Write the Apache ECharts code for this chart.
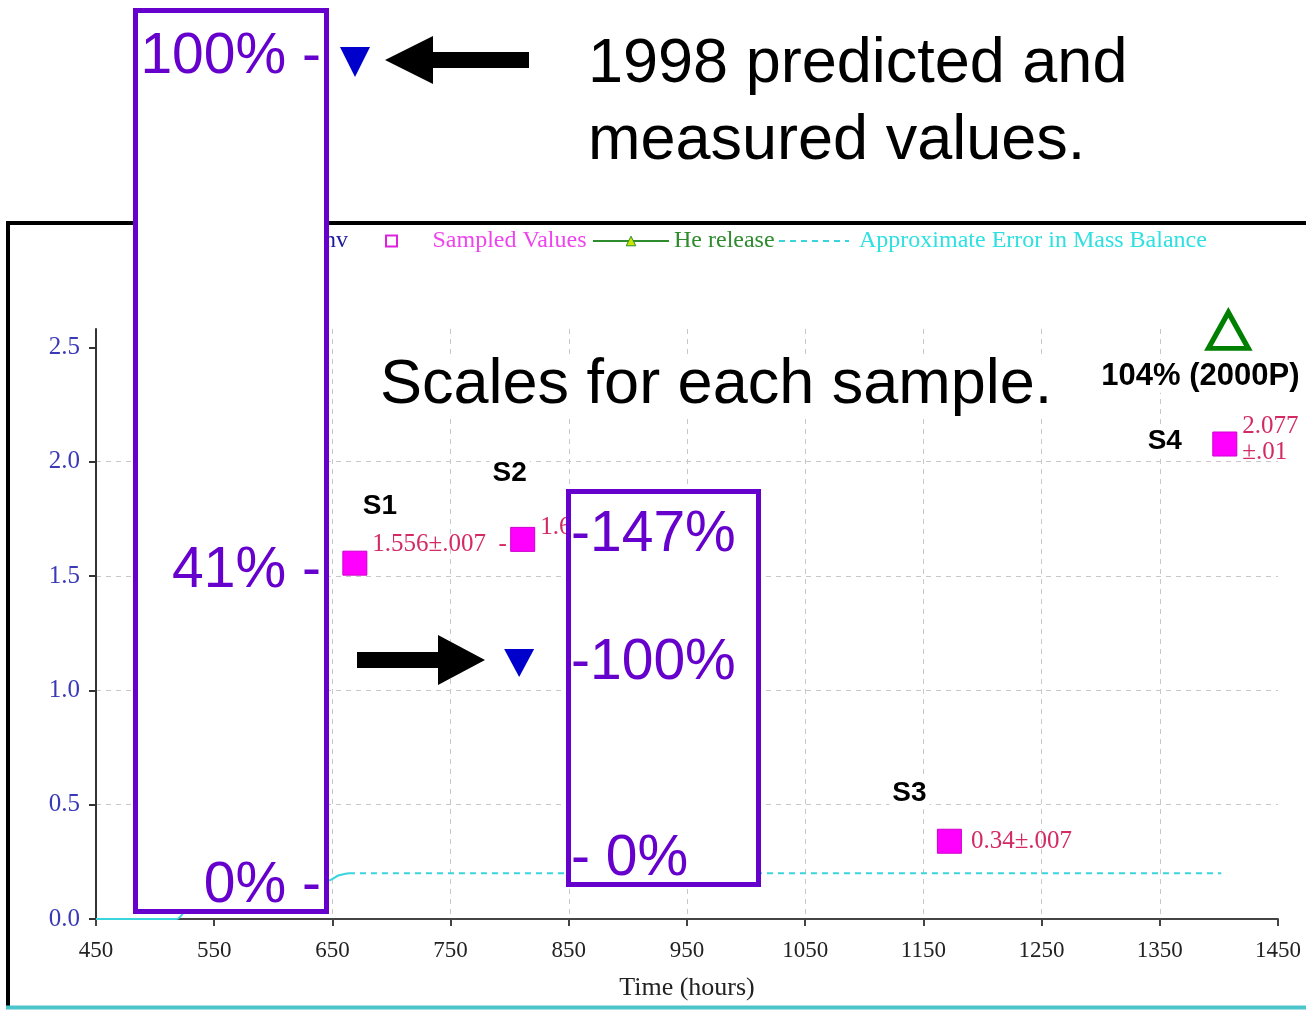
<!DOCTYPE html>
<html>
<head>
<meta charset="utf-8">
<script src="https://cdn.jsdelivr.net/npm/echarts@6/dist/echarts.min.js"></script>
<style>
  html, body { margin: 0; padding: 0; background: #fff; }
  #chart { width: 1306px; height: 1010px; }
</style>
</head>
<body>
<div id="chart"></div>
<script>
// Axis ticks
const xTicks = [450, 550, 650, 750, 850, 950, 1050, 1150, 1250, 1350, 1450];
const yTicks = [0, 0.5, 1.0, 1.5, 2.0, 2.5];

// Sampled values (hours, measured amount, uncertainty)
const sampleNames = ['S1', 'S2', 'S3', 'S4'];
const sampleHours = [669, 811, 1172, 1405];
const sampleValues = [1.556, 1.66, 0.34, 2.077];
const sampleErrors = ['.007', '.007', '.007', '.01'];

// Predicted value (inverted triangle)
const predictedHours = [808];
const predictedValues = [1.12];

// He release marker
const heHours = [1408];
const heValues = [2.574];
const heNotes = ['104% (2000P)'];

// Approximate error in mass balance: initial ramp, then flat dashed run
const errorRampHours = [450, 518, 530, 648, 655, 664];
const errorRampValues = [0, 0, 0.06, 0.17, 0.19, 0.2];
const errorFlatHours = [664, 1402];
const errorFlatValues = [0.2, 0.2];

// label placement for each sample (px offsets from the marker)
const valueLabelShift = [[0, -19], [0, -12], [4, 0], [0, -5]];
const valueLabelTail = ['  -', '', '', ''];
const valueLabelWrap = [false, false, false, true];
const nameLabelShift = [[25, -57], [-13, -66], [-40, -48], [-60, -3]];

const zip = (xs, ys) => xs.map((x, i) => [x, ys[i]]);

const SERIF = 'Liberation Serif';
const SANS = 'Liberation Sans';
const PURPLE = '#6600cc';
const CYAN = '#3ad4dc';

const sampleData = sampleHours.map((h, i) => ({
  value: [h, sampleValues[i]],
  label: {
    offset: valueLabelShift[i],
    formatter: () => valueLabelWrap[i]
      ? sampleValues[i] + '\n±' + sampleErrors[i]
      : sampleValues[i] + '±' + sampleErrors[i] + valueLabelTail[i]
  }
}));

const sampleTagData = sampleHours.map((h, i) => ({
  value: [h, sampleValues[i]],
  label: { offset: nameLabelShift[i], formatter: sampleNames[i] }
}));

const legendBase = {
  top: 229,
  padding: 0,
  itemGap: 0,
  itemHeight: 14,
  selectedMode: false,
  textStyle: { fontFamily: SERIF, fontSize: 24, lineHeight: 24 }
};

function purpleText(text, x, y, align) {
  return {
    type: 'text', z: 60,
    style: {
      text: text, x: x, y: y,
      font: '57px "' + SANS + '"', fill: PURPLE,
      textAlign: align, textVerticalAlign: 'middle',
      align: align, verticalAlign: 'middle'
    }
  };
}

function bigText(text, x, y, bg) {
  return {
    type: 'text', z: 60,
    style: {
      text: text, x: x, y: y,
      font: '63px "' + SANS + '"', fill: '#000',
      textAlign: 'left', textVerticalAlign: 'middle',
      align: 'left', verticalAlign: 'middle',
      backgroundColor: bg ? '#fff' : null
    }
  };
}

const option = {
  backgroundColor: '#fff',
  animation: false,
  grid: { left: 96, right: 28, top: 329, bottom: 91, containLabel: false, outerBoundsMode: 'none' },
  xAxis: {
    type: 'value', min: 450, max: 1450,
    name: 'Time (hours)', nameLocation: 'middle', nameGap: 56,
    nameTextStyle: { fontFamily: SERIF, fontSize: 26, color: '#222' },
    axisLine: { show: true, onZero: false, lineStyle: { color: '#444', width: 2 } },
    axisTick: { show: true, length: 7, customValues: xTicks, lineStyle: { color: '#444', width: 2 } },
    axisLabel: { customValues: xTicks, formatter: v => String(v), margin: 20, fontFamily: SERIF, fontSize: 23, color: '#222' },
    splitLine: { show: true, showMinLine: false, showMaxLine: false, lineStyle: { color: '#c8c8c8', width: 1, type: [5, 5] } }
  },
  yAxis: {
    type: 'value', min: 0, max: 2.58,
    axisLine: { show: true, onZero: false, lineStyle: { color: '#333', width: 2 } },
    axisTick: { show: true, length: 7, customValues: yTicks, lineStyle: { color: '#333', width: 2 } },
    axisLabel: { customValues: yTicks, formatter: v => v.toFixed(1), margin: 16, fontFamily: SERIF, fontSize: 25, color: '#3a3ab8' },
    splitLine: { show: true, showMinLine: false, showMaxLine: false, lineStyle: { color: '#c8c8c8', width: 1, type: [5, 5] } }
  },
  legend: [
    Object.assign({}, legendBase, {
      right: 958,
      data: [{ name: 'Predicted Inv', icon: 'triangle', textStyle: { color: '#1a1a9a' } }]
    }),
    Object.assign({}, legendBase, {
      left: 385, itemWidth: 72, itemHeight: 11,
      data: [{
        name: 'Sampled Values', icon: 'path://M0,0H10V10H0Z',
        itemStyle: { color: '#fff', borderColor: '#dd22dd', borderWidth: 2, opacity: 1 },
        textStyle: { color: '#ee44ee' }
      }]
    }),
    Object.assign({}, legendBase, {
      left: 592, itemWidth: 76, itemHeight: 12,
      data: [{
        name: 'He release',
        itemStyle: { color: '#c8e600', borderColor: '#2e8b2e', borderWidth: 1 },
        lineStyle: { color: '#2e8b2e', width: 2 },
        textStyle: { color: '#2e8b2e' }
      }]
    }),
    Object.assign({}, legendBase, {
      left: 778, itemWidth: 70,
      data: [{
        name: 'Approximate Error in Mass Balance',
        itemStyle: { opacity: 0 },
        lineStyle: { color: CYAN, width: 2, type: [6, 5] },
        textStyle: { color: '#2ee0e0', padding: [0, 0, 0, 5] }
      }]
    })
  ],
  series: [
    {
      name: 'Approximate Error in Mass Balance', type: 'line',
      data: zip(errorFlatHours, errorFlatValues),
      symbol: 'none', z: 2,
      lineStyle: { color: CYAN, width: 2, type: [6, 5] },
      itemStyle: { color: CYAN }
    },
    {
      name: 'Approximate Error in Mass Balance', type: 'line',
      data: zip(errorRampHours, errorRampValues),
      symbol: 'none', z: 2, smooth: 0.3,
      lineStyle: { color: CYAN, width: 2 },
      itemStyle: { color: CYAN }
    },
    {
      name: 'Predicted Inv', type: 'scatter',
      data: zip(predictedHours, predictedValues),
      symbol: 'triangle', symbolRotate: 180, symbolSize: [30, 28],
      itemStyle: { color: '#0000cc', opacity: 1 }, z: 4
    },
    {
      name: 'Sampled Values', type: 'scatter',
      data: sampleData,
      symbol: 'rect', symbolSize: 24, z: 4,
      itemStyle: { color: '#ff00ff', borderColor: '#cc00cc', borderWidth: 1, opacity: 1 },
      label: {
        show: true, position: 'right', distance: 5, opacity: 1,
        fontFamily: SERIF, fontSize: 25, lineHeight: 26, color: '#d42a64', align: 'left'
      }
    },
    {
      name: 'sample tags', type: 'scatter',
      data: sampleTagData,
      symbol: 'rect', symbolSize: 1, z: 5, silent: true,
      itemStyle: { color: 'rgba(0,0,0,0)', opacity: 1 },
      label: {
        show: true, position: 'inside', align: 'center', verticalAlign: 'middle', opacity: 1,
        fontFamily: SANS, fontWeight: 'bold', fontSize: 28, color: '#000',
        backgroundColor: '#fff', padding: [2, 3]
      }
    },
    {
      name: 'He release', type: 'line',
      data: zip(heHours, heValues),
      symbol: 'triangle', symbolSize: [40, 36], clip: false, z: 4,
      lineStyle: { color: '#2e8b2e', width: 2 },
      itemStyle: { color: '#fff', borderColor: '#008000', borderWidth: 5 },
      label: {
        show: true, position: 'inside', offset: [-28, 46],
        formatter: (p) => heNotes[p.dataIndex],
        fontFamily: SANS, fontWeight: 'bold', fontSize: 31, color: '#000',
        backgroundColor: '#fff', padding: [1, 2]
      }
    }
  ],
  graphic: [
    // chart frame
    { type: 'polyline', z: 1, shape: { points: [[8, 1008], [8, 223], [1312, 223]] }, style: { stroke: '#000', lineWidth: 4, fill: null } },
    { type: 'line', z: 1, shape: { x1: 6, y1: 1007.5, x2: 1306, y2: 1007.5 }, style: { stroke: '#4cc4cc', lineWidth: 4 } },

    // scale box for S1
    { type: 'rect', z: 50, shape: { x: 135.5, y: 10.5, width: 191, height: 901 }, style: { fill: '#fff', stroke: PURPLE, lineWidth: 5 } },
    purpleText('100% -', 321, 57, 'right'),
    purpleText('41% -', 321, 571, 'right'),
    purpleText('0% -', 321, 886, 'right'),

    // 1998 predicted marker and pointer
    { type: 'polygon', z: 60, shape: { points: [[340, 47], [370, 47], [355, 77]] }, style: { fill: '#0000cc' } },
    { type: 'polygon', z: 60, shape: { points: [[385, 60], [433, 36], [433, 52], [529, 52], [529, 68], [433, 68], [433, 84]] }, style: { fill: '#000' } },
    bigText('1998 predicted and', 588, 65, false),
    bigText('measured values.', 588, 142, false),
    bigText('Scales for each sample.', 380, 386, true),

    // pointer to the predicted value
    { type: 'polygon', z: 60, shape: { points: [[357, 652], [438, 652], [438, 635], [485, 660], [438, 685], [438, 668], [357, 668]] }, style: { fill: '#000' } },

    // scale box for S2
    { type: 'rect', z: 50, shape: { x: 568.5, y: 491.5, width: 190, height: 393 }, style: { fill: '#fff', stroke: PURPLE, lineWidth: 5 } },
    purpleText('-147%', 571, 535, 'left'),
    purpleText('-100%', 571, 663, 'left'),
    purpleText('- 0%', 571, 859, 'left')
  ]
};

const chart = echarts.init(document.getElementById('chart'), null, { renderer: 'canvas' });
chart.setOption(option);
</script>
</body>
</html>
